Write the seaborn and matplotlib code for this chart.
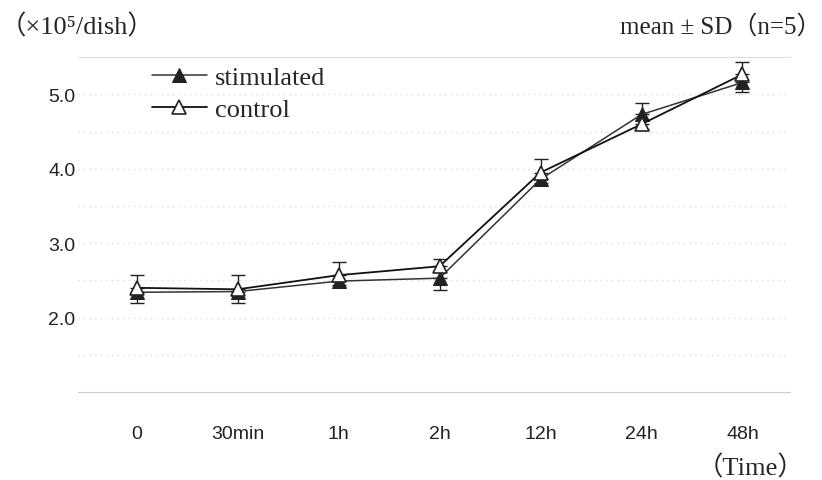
import numpy as np
import pandas as pd
import seaborn as sns
import matplotlib.pyplot as plt

sns.set_style("white")
plt.rcParams['font.family'] = ['Liberation Sans', 'DejaVu Sans']

# Data
times = ["0", "30min", "1h", "2h", "12h", "24h", "48h"]
stimulated = [2.34, 2.35, 2.49, 2.53, 3.86, 4.73, 5.16]
control = [2.40, 2.38, 2.57, 2.69, 3.95, 4.60, 5.27]
# only the outer side of each error bar is drawn
stim_err_low = [0.15, 0.15, 0.05, 0.16, 0.05, 0.00, 0.13]
stim_err_up = [0.00, 0.00, 0.00, 0.00, 0.00, 0.16, 0.00]
ctrl_err_low = [0.00, 0.00, 0.00, 0.00, 0.00, 0.07, 0.00]
ctrl_err_up = [0.17, 0.19, 0.18, 0.10, 0.18, 0.00, 0.16]

df = pd.DataFrame({
    "time": times * 2,
    "count": stimulated + control,
    "group": ["stimulated"] * len(times) + ["control"] * len(times),
})

serif = ['Liberation Serif', 'DejaVu Serif', 'Noto Sans CJK JP']

fig = plt.figure(figsize=(8.22, 4.81), dpi=100)
ax = fig.add_axes([0.095, 0.183, 0.866, 0.696])

# error bars first so markers sit on top
ax.errorbar(times, stimulated, yerr=[stim_err_low, stim_err_up], fmt='none',
            ecolor='#222222', elinewidth=1.0, capsize=5, capthick=1.0, zorder=2)
ax.errorbar(times, control, yerr=[ctrl_err_low, ctrl_err_up], fmt='none',
            ecolor='#222222', elinewidth=1.0, capsize=5, capthick=1.0, zorder=2)

sns.lineplot(data=df[df.group == "stimulated"], x="time", y="count",
             color='#333333', linewidth=1.1, marker='^', markersize=10,
             markerfacecolor='#222222', markeredgecolor='#222222',
             label="stimulated", ax=ax, zorder=3)
sns.lineplot(data=df[df.group == "control"], x="time", y="count",
             color='#111111', linewidth=1.3, marker='^', markersize=10,
             markerfacecolor='white', markeredgecolor='#222222',
             markeredgewidth=1.2, label="control", ax=ax, zorder=4)

ax.set_xlim(-0.58, 6.47)
ax.set_ylim(1.0, 5.5)
ax.set_yticks([2.0, 3.0, 4.0, 5.0])
ax.set_yticklabels(["2.0", "3.0", "4.0", "5.0"])

# faint dotted gridlines every 0.5
for v in np.arange(1.5, 5.01, 0.5):
    ax.axhline(v, color='#dddddd', linestyle=(0, (1, 3)), linewidth=1.0, zorder=0)

for s in ["left", "right"]:
    ax.spines[s].set_visible(False)
ax.spines["top"].set_color('#dddddd')
ax.spines["bottom"].set_color('#cccccc')
ax.spines["top"].set_linewidth(0.8)
ax.spines["bottom"].set_linewidth(0.8)

ax.tick_params(axis='both', length=0, labelsize=14, colors='#222222')
ax.tick_params(axis='x', pad=24)
ax.tick_params(axis='y', pad=2)
ax.set_xlabel("")
ax.set_ylabel("")

leg = ax.legend(loc='upper left', bbox_to_anchor=(0.07, 1.045), frameon=False,
                handlelength=2.1, handletextpad=0.3, labelspacing=0.32,
                prop={'family': serif, 'size': 19})

fig.text(0.0, 0.945, "（×10⁵/dish）", family=serif, fontsize=19,
         ha='left', va='center')
fig.text(0.999, 0.945, "mean ± SD（n=5）", family=serif, fontsize=18,
         ha='right', va='center')
fig.text(0.978, 0.028, "（Time）", family=serif, fontsize=19,
         ha='right', va='center')

fig.savefig("out.png", dpi=100, facecolor='white')
